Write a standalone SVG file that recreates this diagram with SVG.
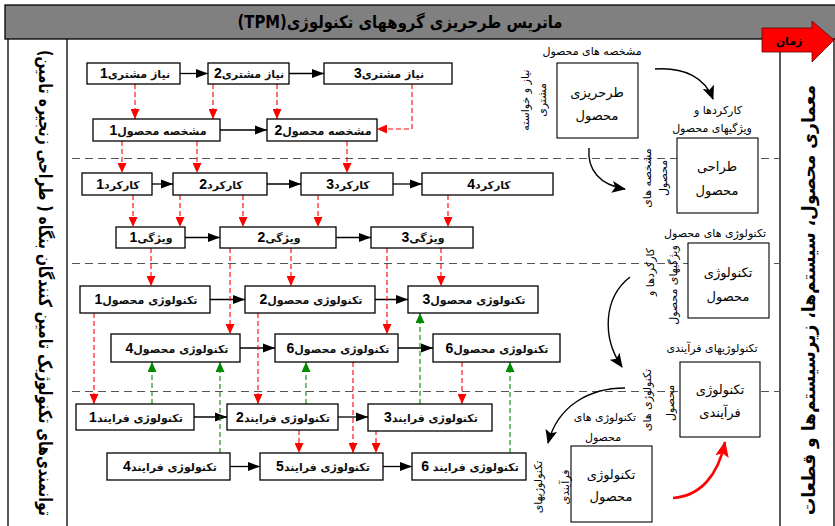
<svg xmlns="http://www.w3.org/2000/svg" width="835" height="526" viewBox="0 0 835 526">
  <style>
    .frame { fill: none; stroke: #000; stroke-width: 1.3; }
    .box { fill: #fff; stroke: #000; stroke-width: 1.3; }
    .big { fill: #fff; stroke: #000; stroke-width: 1.1; }
    .lbl { font-family: "DejaVu Sans", sans-serif; font-size: 11px; font-weight: bold; fill: #111; text-anchor: middle; direction: rtl; }
    .num { font-family: "Liberation Sans", Arial, sans-serif; font-weight: bold; font-size: 14px; fill: #000; }
    .side { font-family: "DejaVu Sans", sans-serif; font-size: 11px; fill: #000; text-anchor: middle; direction: rtl; }
    .inner { font-family: "DejaVu Sans", sans-serif; font-size: 13px; fill: #000; text-anchor: middle; direction: rtl; }
    .col { font-family: "DejaVu Sans", sans-serif; font-size: 18px; font-weight: bold; fill: #000; text-anchor: middle; direction: rtl; }
    .flow { stroke: #000; stroke-width: 1.3; fill: none; marker-end: url(#hk); }
    .red { stroke: #ff0000; stroke-width: 1.1; stroke-dasharray: 5 3; fill: none; marker-end: url(#hr); }
    .grn { stroke: #008a00; stroke-width: 1.1; stroke-dasharray: 5 3; fill: none; marker-end: url(#hg); }
    .sep { stroke: #555; stroke-width: 1.1; stroke-dasharray: 8 5; fill: none; }
    .curve { stroke: #000; stroke-width: 1.4; fill: none; marker-end: url(#hc); }
  </style>
  <defs>
    <marker id="hk" viewBox="0 0 12 10" refX="12" refY="5" markerWidth="12" markerHeight="10" markerUnits="userSpaceOnUse" orient="auto">
      <path d="M0,0.5 L12,5 L0,9.5 z" fill="#000"/>
    </marker>
    <marker id="hr" viewBox="0 0 10 9" refX="10" refY="4.5" markerWidth="10" markerHeight="9" markerUnits="userSpaceOnUse" orient="auto">
      <path d="M0,0 L10,4.5 L0,9 z" fill="#ff0000"/>
    </marker>
    <marker id="hg" viewBox="0 0 10 9" refX="10" refY="4.5" markerWidth="10" markerHeight="9" markerUnits="userSpaceOnUse" orient="auto">
      <path d="M0,0 L10,4.5 L0,9 z" fill="#008a00"/>
    </marker>
    <marker id="hc" viewBox="0 0 14 12" refX="13" refY="6" markerWidth="14" markerHeight="12" markerUnits="userSpaceOnUse" orient="auto">
      <path d="M0,0 L14,6 L0,12 L3,6 z" fill="#000"/>
    </marker>
    <marker id="hrc" viewBox="0 0 14 12" refX="13" refY="6" markerWidth="16" markerHeight="14" markerUnits="userSpaceOnUse" orient="auto">
      <path d="M0,0 L14,6 L0,12 L3,6 z" fill="#ff0000"/>
    </marker>
  </defs>

  <rect width="835" height="526" fill="#fff"/>

  <!-- title bar and outer frame -->
  <g id="frame">
    <rect x="5" y="5" width="832" height="34" fill="#808080" stroke="#000" stroke-width="1.3"/>
    <text x="400" y="28" font-family="DejaVu Sans, sans-serif" font-size="17" font-weight="bold" text-anchor="middle" direction="rtl" textLength="325" lengthAdjust="spacingAndGlyphs">ماتریس طرحریزی گروههای تکنولوژی(TPM)</text>
    <line x1="8" y1="39" x2="8" y2="526" class="frame"/>
    <line x1="67" y1="39" x2="67" y2="526" class="frame"/>
    <line x1="780" y1="39" x2="780" y2="526" class="frame"/>
    <line x1="834" y1="39" x2="834" y2="526" class="frame"/>
  </g>

  <!-- time arrow -->
  <g id="time">
    <path d="M762,28 H812 V21 L834,40 L812,62 V52 H762 z" fill="#ff0000" stroke="#600" stroke-width="0.8"/>
    <text x="789" y="45" font-family="DejaVu Sans, sans-serif" font-size="11" font-weight="bold" text-anchor="middle" direction="rtl">زمان</text>
  </g>

  <!-- side column titles -->
  <g id="supplier-column">
    <text class="col" transform="translate(39,283) rotate(90)" y="0" textLength="466" lengthAdjust="spacingAndGlyphs">توانمندی‌های تکنولوژیک تامین کنندگان بنگاه ( طراحی زنجیره تامین)</text>
  </g>
  <g id="architecture-column">
    <text class="col" transform="translate(815,300) rotate(-90)" y="0" textLength="430" lengthAdjust="spacingAndGlyphs">معماری محصول، سیستم‌ها، زیرسیستم‌ها و قطعات</text>
  </g>

  <!-- level separators -->
  <g id="separators">
    <line x1="72" y1="158.5" x2="780" y2="158.5" class="sep"/>
    <line x1="72" y1="263.5" x2="780" y2="263.5" class="sep"/>
    <line x1="72" y1="391.5" x2="780" y2="391.5" class="sep"/>
  </g>

  <!-- connectors -->
  <g id="connectors">
    <!-- solid flow arrows -->
    <line x1="180" y1="73.5" x2="208" y2="73.5" class="flow"/>
    <line x1="289" y1="73.5" x2="324" y2="73.5" class="flow"/>
    <line x1="220" y1="130" x2="267" y2="130" class="flow"/>
    <line x1="152" y1="184" x2="173" y2="184" class="flow"/>
    <line x1="267" y1="184" x2="301" y2="184" class="flow"/>
    <line x1="393" y1="184" x2="422" y2="184" class="flow"/>
    <line x1="185" y1="237.5" x2="220" y2="237.5" class="flow"/>
    <line x1="336" y1="237.5" x2="371" y2="237.5" class="flow"/>
    <line x1="210" y1="299.5" x2="245" y2="299.5" class="flow"/>
    <line x1="375" y1="299.5" x2="408" y2="299.5" class="flow"/>
    <line x1="240" y1="348" x2="275" y2="348" class="flow"/>
    <line x1="398" y1="348" x2="433" y2="348" class="flow"/>
    <line x1="194" y1="417" x2="227" y2="417" class="flow"/>
    <line x1="338" y1="417" x2="368" y2="417" class="flow"/>
    <line x1="230" y1="466.5" x2="260" y2="466.5" class="flow"/>
    <line x1="383" y1="466.5" x2="412" y2="466.5" class="flow"/>

    <!-- red dashed dependencies -->
    <line x1="135" y1="84" x2="135" y2="119" class="red"/>
    <line x1="213" y1="84" x2="213" y2="119" class="red"/>
    <line x1="277" y1="84" x2="277" y2="119" class="red"/>
    <path d="M412,84 V129 H377" class="red"/>
    <line x1="122" y1="141" x2="122" y2="173" class="red"/>
    <line x1="197" y1="141" x2="197" y2="173" class="red"/>
    <line x1="347" y1="141" x2="347" y2="173" class="red"/>
    <line x1="133" y1="195" x2="133" y2="227" class="red"/>
    <line x1="180" y1="195" x2="180" y2="227" class="red"/>
    <line x1="243" y1="195" x2="243" y2="227" class="red"/>
    <line x1="318" y1="195" x2="318" y2="227" class="red"/>
    <line x1="448" y1="195" x2="448" y2="227" class="red"/>
    <line x1="151" y1="248" x2="151" y2="286" class="red"/>
    <line x1="291" y1="248" x2="291" y2="286" class="red"/>
    <line x1="441" y1="248" x2="441" y2="286" class="red"/>
    <line x1="230" y1="248" x2="230" y2="334" class="red"/>
    <line x1="387" y1="248" x2="387" y2="334" class="red"/>
    <line x1="94" y1="313" x2="94" y2="404" class="red"/>
    <line x1="258" y1="313" x2="258" y2="404" class="red"/>
    <line x1="353" y1="362" x2="353" y2="453" class="red"/>
    <line x1="462" y1="362" x2="462" y2="404" class="red"/>
    <line x1="299" y1="430" x2="299" y2="453" class="red"/>
    <line x1="376" y1="430" x2="376" y2="453" class="red"/>

    <!-- green dashed feedback -->
    <line x1="152" y1="404" x2="152" y2="362" class="grn"/>
    <line x1="220" y1="453" x2="220" y2="362" class="grn"/>
    <line x1="306" y1="404" x2="306" y2="362" class="grn"/>
    <line x1="420" y1="404" x2="420" y2="313" class="grn"/>
    <line x1="510" y1="453" x2="510" y2="362" class="grn"/>

    <!-- right-hand cycle arrows -->
    <path d="M655,69 C685,67 705,78 713,99" class="curve"/>
    <path d="M589,148 C587,170 600,185 625,189" class="curve"/>
    <path d="M630,277 C603,298 602,338 622,367" class="curve"/>
    <path d="M625,388 C590,388 558,405 548,443" class="curve"/>
    <path d="M673,498 C700,496 718,476 725,442" stroke="#ff0000" stroke-width="2.6" fill="none" marker-end="url(#hrc)"/>
  </g>

  <!-- customer needs -->
  <g id="need1"><rect x="87" y="63" width="93" height="21" class="box"/><text x="135" y="78" class="lbl">نیاز مشتری<tspan class="num">1</tspan></text></g>
  <g id="need2"><rect x="208" y="63" width="81" height="21" class="box"/><text x="249" y="78" class="lbl">نیاز مشتری<tspan class="num">2</tspan></text></g>
  <g id="need3"><rect x="324" y="63" width="128" height="21" class="box"/><text x="389" y="78" class="lbl">نیاز مشتری<tspan class="num">3</tspan></text></g>

  <!-- product specs -->
  <g id="spec1"><rect x="93" y="119" width="127" height="22" class="box"/><text x="158" y="135" class="lbl">مشخصه محصول<tspan class="num">1</tspan></text></g>
  <g id="spec2"><rect x="267" y="119" width="110" height="22" class="box"/><text x="323" y="135" class="lbl">مشخصه محصول<tspan class="num">2</tspan></text></g>

  <!-- functions -->
  <g id="func1"><rect x="82" y="173" width="70" height="22" class="box"/><text x="118" y="189" class="lbl">کارکرد<tspan class="num">1</tspan></text></g>
  <g id="func2"><rect x="173" y="173" width="94" height="22" class="box"/><text x="221" y="189" class="lbl">کارکرد<tspan class="num">2</tspan></text></g>
  <g id="func3"><rect x="301" y="173" width="92" height="22" class="box"/><text x="348" y="189" class="lbl">کارکرد<tspan class="num">3</tspan></text></g>
  <g id="func4"><rect x="422" y="173" width="131" height="22" class="box"/><text x="489" y="189" class="lbl">کارکرد<tspan class="num">4</tspan></text></g>

  <!-- features -->
  <g id="feat1"><rect x="116" y="227" width="69" height="21" class="box"/><text x="151" y="242" class="lbl">ویژگی<tspan class="num">1</tspan></text></g>
  <g id="feat2"><rect x="220" y="227" width="116" height="21" class="box"/><text x="279" y="242" class="lbl">ویژگی<tspan class="num">2</tspan></text></g>
  <g id="feat3"><rect x="371" y="227" width="102" height="21" class="box"/><text x="423" y="242" class="lbl">ویژگی<tspan class="num">3</tspan></text></g>

  <!-- product technologies -->
  <g id="ptech1"><rect x="80" y="286" width="130" height="27" class="box"/><text x="146" y="304" class="lbl">تکنولوژی محصول<tspan class="num">1</tspan></text></g>
  <g id="ptech2"><rect x="245" y="286" width="130" height="27" class="box"/><text x="311" y="304" class="lbl">تکنولوژی محصول<tspan class="num">2</tspan></text></g>
  <g id="ptech3"><rect x="408" y="286" width="130" height="27" class="box"/><text x="474" y="304" class="lbl">تکنولوژی محصول<tspan class="num">3</tspan></text></g>
  <g id="ptech4"><rect x="111" y="334" width="129" height="28" class="box"/><text x="177" y="353" class="lbl">تکنولوژی محصول<tspan class="num">4</tspan></text></g>
  <g id="ptech6a"><rect x="275" y="334" width="123" height="28" class="box"/><text x="338" y="353" class="lbl">تکنولوژی محصول<tspan class="num">6</tspan></text></g>
  <g id="ptech6b"><rect x="433" y="334" width="127" height="28" class="box"/><text x="497" y="353" class="lbl">تکنولوژی محصول<tspan class="num">6</tspan></text></g>

  <!-- process technologies -->
  <g id="prtech1"><rect x="76" y="404" width="118" height="26" class="box"/><text x="136" y="422" class="lbl">تکنولوژی فرایند<tspan class="num">1</tspan></text></g>
  <g id="prtech2"><rect x="227" y="404" width="111" height="26" class="box"/><text x="283" y="422" class="lbl">تکنولوژی فرایند<tspan class="num">2</tspan></text></g>
  <g id="prtech3"><rect x="368" y="404" width="124" height="27" class="box"/><text x="431" y="422" class="lbl">تکنولوژی فرایند<tspan class="num">3</tspan></text></g>
  <g id="prtech4"><rect x="107" y="453" width="123" height="27" class="box"/><text x="170" y="471" class="lbl">تکنولوژی فرایند<tspan class="num">4</tspan></text></g>
  <g id="prtech5"><rect x="260" y="453" width="123" height="27" class="box"/><text x="323" y="471" class="lbl">تکنولوژی فرایند<tspan class="num">5</tspan></text></g>
  <g id="prtech6"><rect x="412" y="453" width="114" height="27" class="box"/><text x="470" y="471" class="lbl">تکنولوژی فرایند <tspan class="num">6</tspan></text></g>

  <!-- design cycle on the right -->
  <g id="planning">
    <text x="592" y="55" class="side">مشخصه های محصول</text>
    <rect x="557" y="63" width="81" height="75" class="big"/>
    <text x="597" y="97" class="inner">طرحریزی</text>
    <text x="597" y="120" class="inner">محصول</text>
    <text transform="translate(529,100) rotate(-90)" class="side">نیاز و خواسته</text>
    <text transform="translate(546,100) rotate(-90)" class="side">مشتری</text>
  </g>

  <g id="design">
    <text x="718" y="114" class="side">کارکردها و</text>
    <text x="712" y="132" class="side">ویژگیهای محصول</text>
    <rect x="677" y="138" width="81" height="75" class="big"/>
    <text x="717" y="171" class="inner">طراحی</text>
    <text x="717" y="195" class="inner">محصول</text>
    <text transform="translate(651,178) rotate(-90)" class="side">مشخصه های</text>
    <text transform="translate(667,178) rotate(-90)" class="side">محصول</text>
  </g>

  <g id="product-tech">
    <text x="715" y="237" class="side">تکنولوژی های محصول</text>
    <rect x="688" y="243" width="81" height="75" class="big"/>
    <text x="728" y="277" class="inner">تکنولوژی</text>
    <text x="728" y="301" class="inner">محصول</text>
    <text transform="translate(654,272) rotate(-90)" class="side">کارکردها و</text>
    <text transform="translate(677,285) rotate(-90)" class="side">ویژگیهای محصول</text>
  </g>

  <g id="process-tech">
    <text x="712" y="352" class="side">تکنولوژیهای فرآیندی</text>
    <rect x="680" y="362" width="80" height="75" class="big"/>
    <text x="720" y="394" class="inner">تکنولوژی</text>
    <text x="720" y="417" class="inner">فرآیندی</text>
    <text transform="translate(651,400) rotate(-90)" class="side">تکنولوژی های</text>
    <text transform="translate(674,403) rotate(-90)" class="side">محصول</text>
  </g>

  <g id="product-tech-2">
    <text x="605" y="421" class="side">تکنولوژی های</text>
    <text x="603" y="441" class="side">محصول</text>
    <rect x="571" y="446" width="81" height="76" class="big"/>
    <text x="611" y="479" class="inner">تکنولوژی</text>
    <text x="611" y="501" class="inner">محصول</text>
    <text transform="translate(542,487) rotate(-90)" class="side">تکنولوژیهای</text>
    <text transform="translate(569,487) rotate(-90)" class="side">فرآیندی</text>
  </g>
</svg>
